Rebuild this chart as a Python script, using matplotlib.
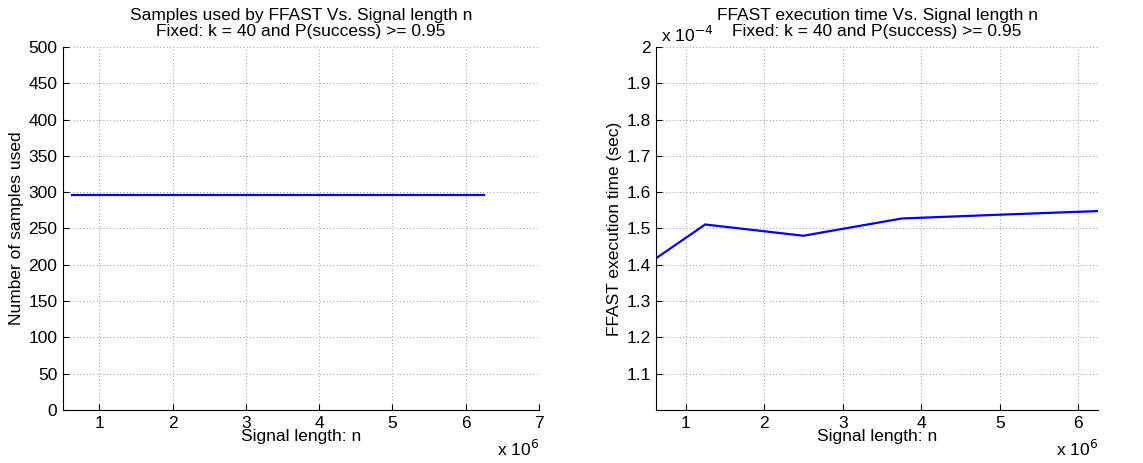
import matplotlib.pyplot as plt
from matplotlib.ticker import FuncFormatter

plt.rcParams['font.family'] = ['Liberation Sans', 'DejaVu Sans']
plt.rcParams['font.size'] = 12.5

# signal lengths n
signal_len = [0.625e6, 1.25e6, 2.5e6, 3.75e6, 5.0e6, 6.25e6]
# samples used by FFAST (constant)
samples_used = [296, 296, 296, 296, 296, 296]
# execution time in seconds
exec_time = [1.418e-4, 1.511e-4, 1.480e-4, 1.5275e-4, 1.538e-4, 1.548e-4]

title_sub = 'Fixed: k = 40 and P(success) >= 0.95'

fig = plt.figure(figsize=(11.43, 4.63), dpi=100)
ax1 = fig.add_axes([0.055, 0.1145, 0.4165, 0.784])
ax2 = fig.add_axes([0.574, 0.1145, 0.3867, 0.784])

def style(ax):
    for s in ['top', 'right']:
        ax.spines[s].set_visible(False)
    ax.tick_params(direction='in', length=4, width=0.8, top=False, right=False, pad=4)
    ax.grid(True, linestyle=(0, (1, 3)), color='#777777', linewidth=0.6)
    ax.set_axisbelow(True)

ax1.plot(signal_len, samples_used, color='blue', linewidth=1.6)
ax1.set_xlim(0.5e6, 7e6)
ax1.set_ylim(0, 500)
ax1.set_xticks([1e6, 2e6, 3e6, 4e6, 5e6, 6e6, 7e6])
ax1.set_yticks(range(0, 501, 50))
ax1.xaxis.set_major_formatter(FuncFormatter(lambda v, p: '%g' % (v / 1e6)))
ax1.set_title('Samples used by FFAST Vs. Signal length n\n' + title_sub, fontsize=12.5, pad=8, linespacing=1.1)
ax1.set_xlabel('Signal length: n', labelpad=-1)
ax1.set_ylabel('Number of samples used', labelpad=3)
style(ax1)
ax1.text(1.0, -0.107, r'x 10$^{6}$', transform=ax1.transAxes, ha='right', va='center')

ax2.plot(signal_len, exec_time, color='blue', linewidth=1.6)
ax2.set_xlim(0.625e6, 6.25e6)
ax2.set_ylim(1.0e-4, 2.0e-4)
ax2.set_xticks([1e6, 2e6, 3e6, 4e6, 5e6, 6e6])
ax2.set_yticks([i * 1e-5 for i in range(11, 21)])
ax2.xaxis.set_major_formatter(FuncFormatter(lambda v, p: '%g' % (v / 1e6)))
ax2.yaxis.set_major_formatter(FuncFormatter(lambda v, p: '%g' % round(v / 1e-4, 2)))
ax2.set_title('FFAST execution time Vs. Signal length n\n' + title_sub, fontsize=12.5, pad=8, linespacing=1.1)
ax2.set_xlabel('Signal length: n', labelpad=-1)
ax2.set_ylabel('FFAST execution time (sec)', labelpad=3)
style(ax2)
ax2.text(1.0, -0.107, r'x 10$^{6}$', transform=ax2.transAxes, ha='right', va='center')
ax2.text(0.01, 1.005, r'x 10$^{-4}$', transform=ax2.transAxes, ha='left', va='bottom')

fig.savefig('out.png', dpi=100)
